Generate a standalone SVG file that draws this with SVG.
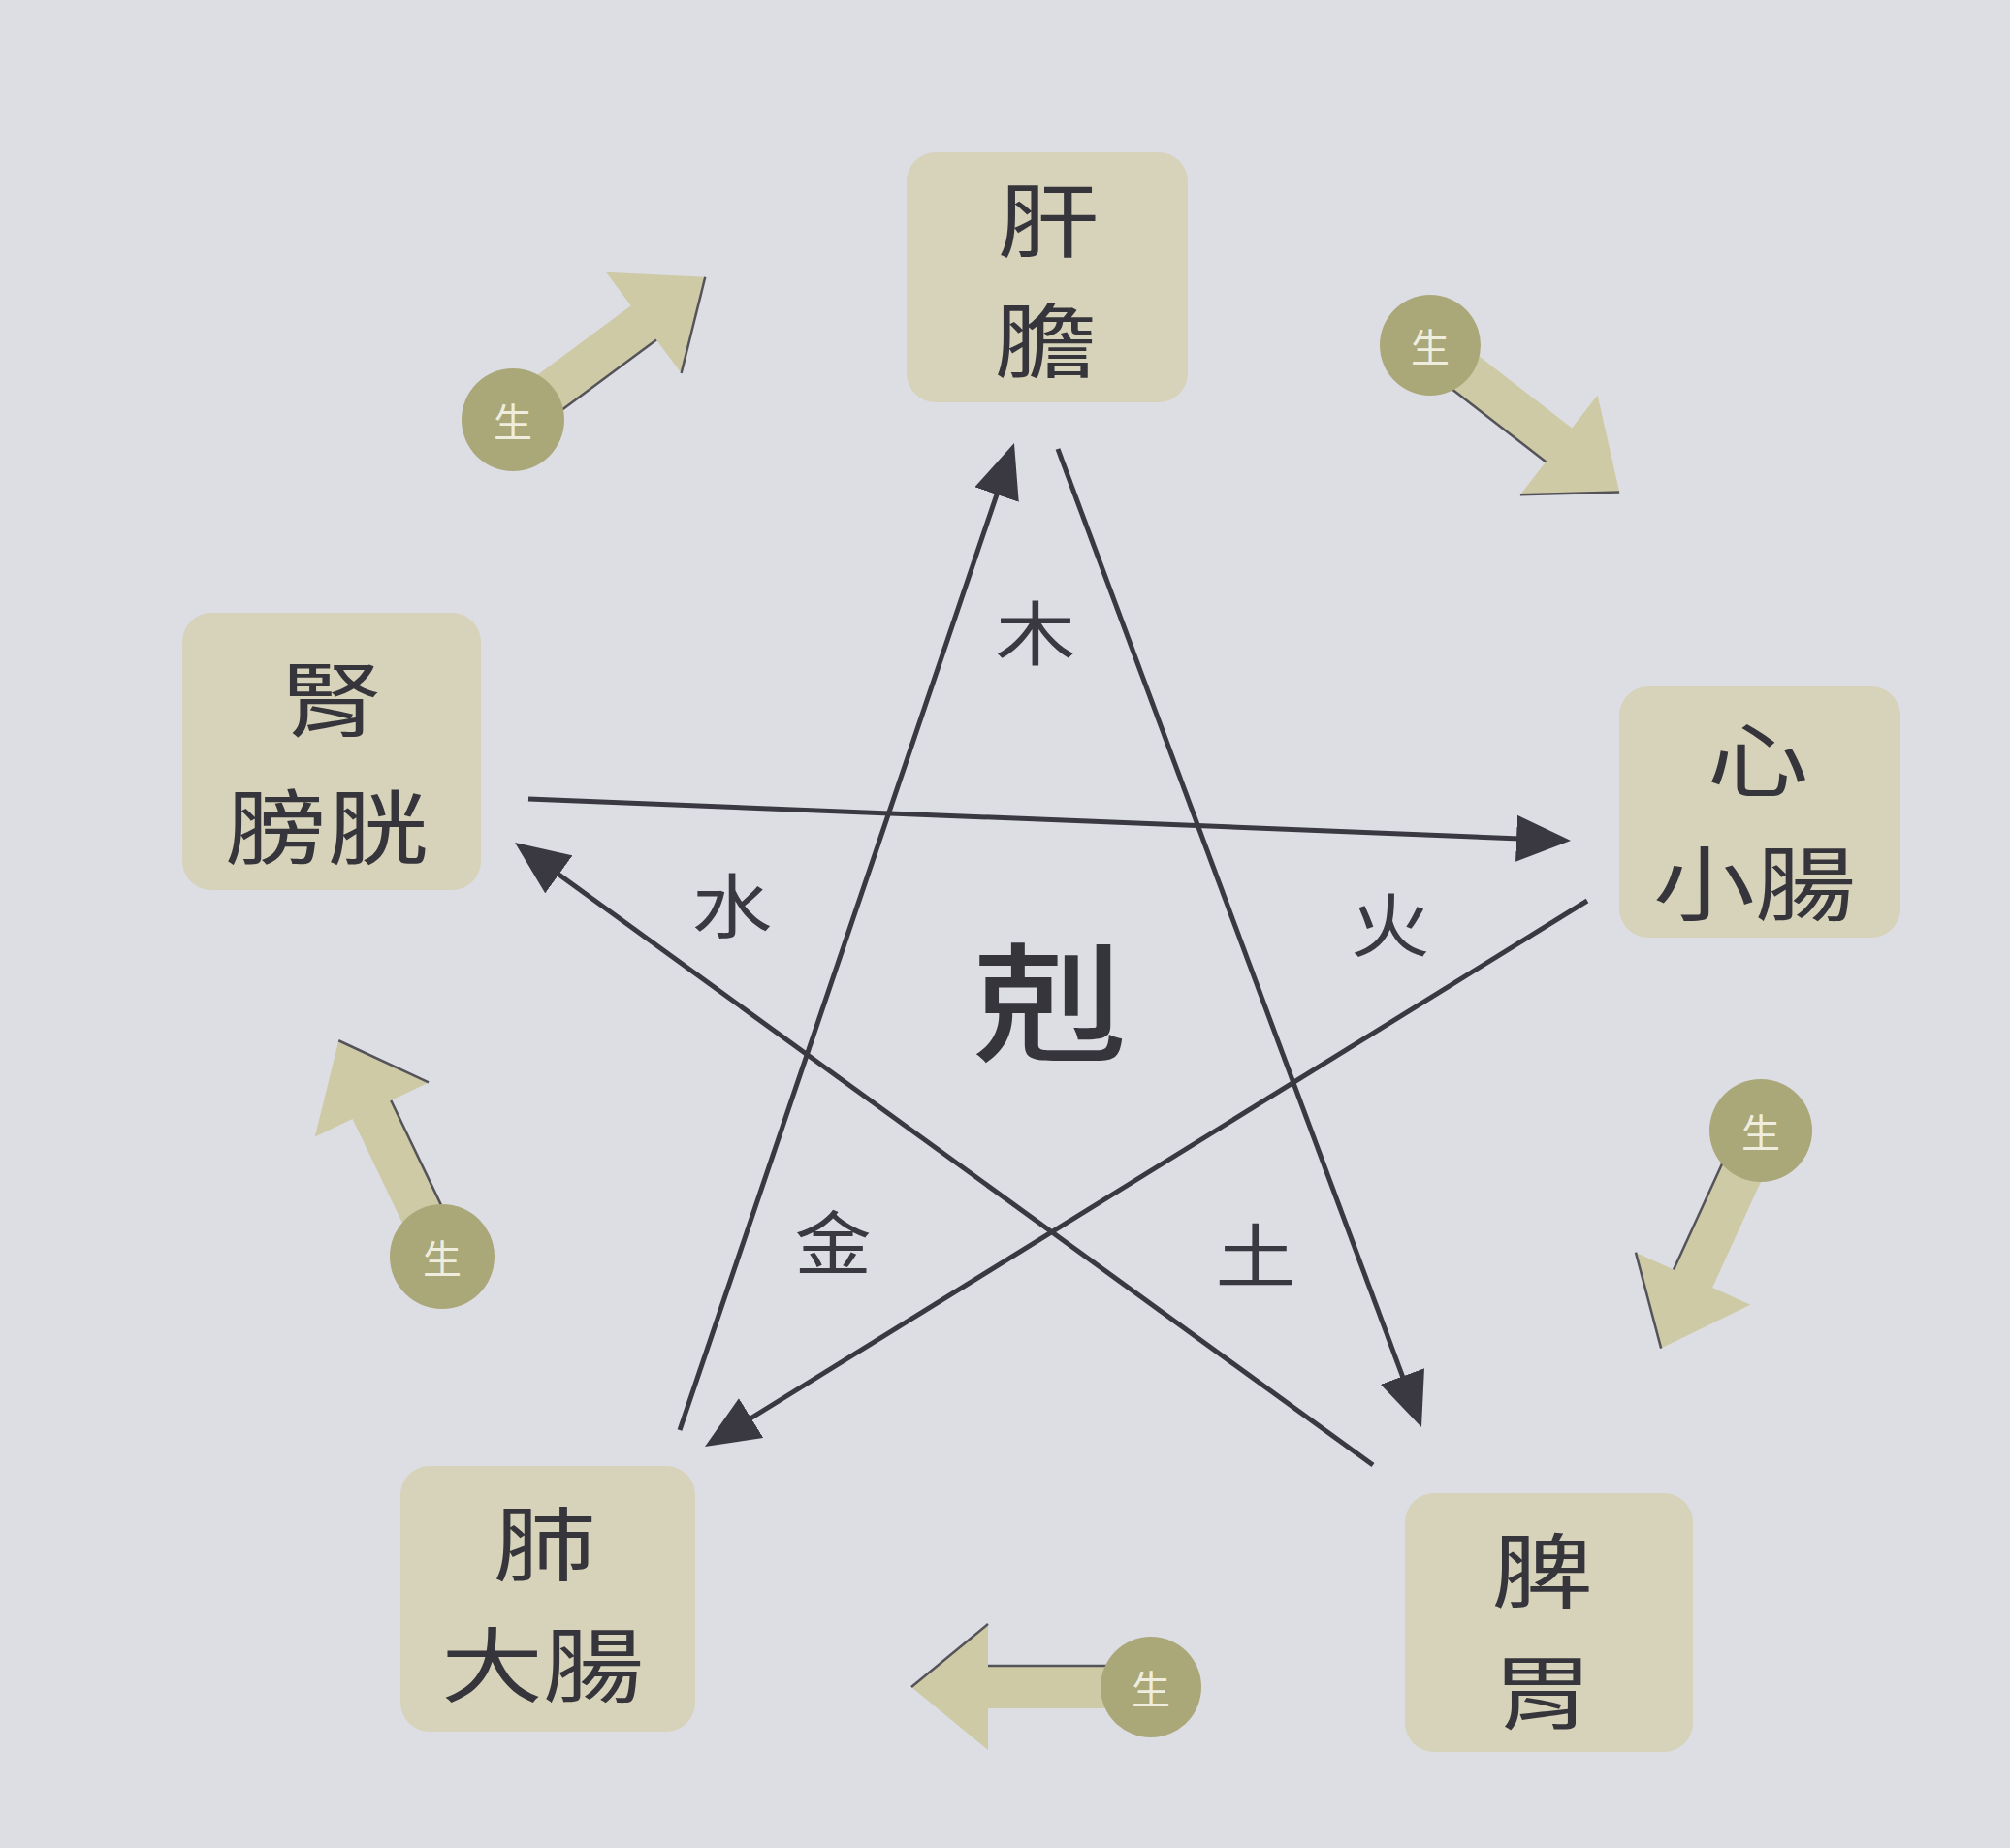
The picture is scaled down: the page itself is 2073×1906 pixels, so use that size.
<svg xmlns="http://www.w3.org/2000/svg" width="2073" height="1906" viewBox="0 0 2073 1906">
<style>
.bg{fill:#dcdee4}
.box{fill:#d6d3ba}
.bt{font-family:"Noto Sans CJK TC","Noto Sans CJK SC",sans-serif;font-size:84px;fill:#37353c;text-anchor:middle;dominant-baseline:central}
.lbl{font-family:"Noto Sans CJK TC","Noto Sans CJK SC",sans-serif;font-size:72px;fill:#3a3840;text-anchor:middle;dominant-baseline:central}
.big{font-family:"Noto Sans CJK TC","Noto Sans CJK SC",sans-serif;font-size:132px;font-weight:500;fill:#37353c;text-anchor:middle;dominant-baseline:central}
.ke{stroke:#3a3840;stroke-width:5;fill:none}
.sh{fill:#cdcaa5}
.ed{stroke:#55535a;stroke-width:2.5;fill:none}
.cir{fill:#aaa779}
.st{font-family:"Noto Sans CJK TC","Noto Sans CJK SC",sans-serif;font-size:40px;fill:#eeedde;text-anchor:middle;dominant-baseline:central}
</style>
<defs>
<marker id="ah" markerUnits="userSpaceOnUse" markerWidth="56" markerHeight="48" refX="48" refY="24" orient="auto">
<path d="M0,0 L56,24 L0,48 z" fill="#3a3840"/>
</marker>
<g id="sarrow">
<polygon class="sh" points="0,-22 168,-22 168,-65 247,0 168,65 168,22 0,22"/>
<line class="ed" x1="45" y1="22" x2="168" y2="22"/>
<line class="ed" x1="168" y1="65" x2="247" y2="0"/>
</g>
</defs>
<rect class="bg" x="0" y="0" width="2073" height="1906"/>

<g id="connectors">
<line class="ke" x1="701" y1="1475" x2="1043.4" y2="464.6" marker-end="url(#ah)"/>
<line class="ke" x1="1091" y1="463" x2="1463.2" y2="1464.5" marker-end="url(#ah)"/>
<line class="ke" x1="545" y1="824" x2="1612" y2="866.7" marker-end="url(#ah)"/>
<line class="ke" x1="1637" y1="929" x2="733.8" y2="1487.8" marker-end="url(#ah)"/>
<line class="ke" x1="1416" y1="1511" x2="537.5" y2="873.7" marker-end="url(#ah)"/>
</g>

<g id="labels">
<text class="lbl" transform="translate(1068,648) scale(1.15,1)">木</text>
<text class="lbl" transform="translate(755,929) scale(1.15,1)">水</text>
<text class="lbl" transform="translate(1434,949) scale(1.15,1)">火</text>
<text class="lbl" transform="translate(859,1278) scale(1.1,1)">金</text>
<text class="lbl" transform="translate(1295,1290) scale(1.15,1)">土</text>
<text class="big" transform="translate(1083,1027) scale(1.2,1)">剋</text>
</g>

<g id="node-wood">
<rect class="box" x="935" y="157" width="290" height="258" rx="30"/>
<text class="bt" transform="translate(1081,222) scale(1.25,1)">肝</text>
<text class="bt" transform="translate(1078,346) scale(1.25,1)">膽</text>
</g>
<g id="node-fire">
<rect class="box" x="1670" y="708" width="290" height="259" rx="30"/>
<text class="bt" transform="translate(1813,778) scale(1.25,1)">心</text>
<text class="bt" transform="translate(1810,906) scale(1.25,1)">小腸</text>
</g>
<g id="node-earth">
<rect class="box" x="1449" y="1540" width="297" height="267" rx="30"/>
<text class="bt" transform="translate(1591,1615) scale(1.25,1)">脾</text>
<text class="bt" transform="translate(1591,1740) scale(1.25,1)">胃</text>
</g>
<g id="node-metal">
<rect class="box" x="413" y="1512" width="304" height="274" rx="30"/>
<text class="bt" transform="translate(562,1587) scale(1.25,1)">肺</text>
<text class="bt" transform="translate(560,1712) scale(1.25,1)">大腸</text>
</g>
<g id="node-water">
<rect class="box" x="188" y="632" width="308" height="286" rx="30"/>
<text class="bt" transform="translate(342,716) scale(1.25,1)">腎</text>
<text class="bt" transform="translate(337,848) scale(1.25,1)">膀胱</text>
</g>

<g id="sheng-1">
<use href="#sarrow" transform="translate(529,433) rotate(-36.6)"/>
<circle class="cir" cx="529" cy="433" r="53"/>
<text class="st" x="529" y="433">生</text>
</g>
<g id="sheng-2">
<use href="#sarrow" transform="translate(1475,356) rotate(37.8)"/>
<circle class="cir" cx="1475" cy="356" r="52"/>
<text class="st" x="1475" y="356">生</text>
</g>
<g id="sheng-3">
<use href="#sarrow" transform="translate(1816,1166) rotate(114.6)"/>
<circle class="cir" cx="1816" cy="1166" r="53"/>
<text class="st" x="1816" y="1166">生</text>
</g>
<g id="sheng-4">
<use href="#sarrow" transform="translate(1187,1740) rotate(180)"/>
<circle class="cir" cx="1187" cy="1740" r="52"/>
<text class="st" x="1187" y="1740">生</text>
</g>
<g id="sheng-5">
<use href="#sarrow" transform="translate(456,1296) rotate(-115.6)"/>
<circle class="cir" cx="456" cy="1296" r="54"/>
<text class="st" x="456" y="1296">生</text>
</g>
</svg>
